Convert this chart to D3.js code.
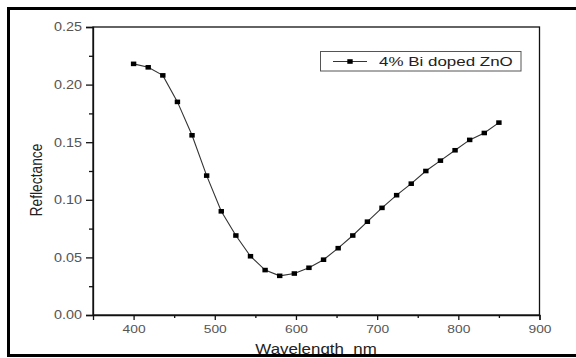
<!DOCTYPE html>
<html><head><meta charset="utf-8">
<script src="https://cdn.jsdelivr.net/npm/d3@7"></script>
<style>body{margin:0;background:#fff;}svg{display:block;font-family:"Liberation Sans",Arial,sans-serif;}</style>
</head><body>
<svg id="chart" width="576" height="358"></svg>
<script>
const wavelengths = [400,418,436,454,472,490,508,526,544,562,580,598,616,634,652,670,688,706,724,742,760,778,796,814,832,850];
const reflectance = [0.218,0.215,0.208,0.185,0.156,0.121,0.090,0.069,0.051,0.039,0.034,0.036,0.041,0.048,0.058,0.069,0.081,0.093,0.104,0.114,0.125,0.134,0.143,0.152,0.158,0.167];
const xTicks = [400,500,600,700,800,900];
const yTicks = [0.00,0.05,0.10,0.15,0.20,0.25];
const seriesName = "4% Bi doped ZnO";
const xTitle = "Wavelength  nm";
const yTitle = "Reflectance";

const svg = d3.select("#chart");
const L=93, R=539.5, T=27, B=315;
const x = d3.scaleLinear().domain([350,900]).range([L,R]);
const y = d3.scaleLinear().domain([0,0.25]).range([B,T]);

function stretch(sel, sx){
  sel.each(function(){
    const t = d3.select(this);
    const x0 = +(t.attr("x")||0);
    t.attr("x",0).attr("transform",`translate(${x0},0) scale(${sx},1)`);
  });
}

// plot box
svg.append("rect").attr("x",L).attr("y",T).attr("width",R-L).attr("height",B-T)
  .attr("fill","none").attr("stroke","#111").attr("stroke-width",1.3);

// x axis
const xAxis = d3.axisBottom(x).tickValues(xTicks).tickSize(5).tickPadding(5).tickFormat(d3.format("d"));
const gx = svg.append("g").attr("transform",`translate(0,${B})`).call(xAxis);
gx.select(".domain").attr("stroke","#111").attr("stroke-width",1.3);
gx.selectAll(".tick line").attr("stroke","#111").attr("stroke-width",1.3);
gx.selectAll(".tick text").attr("fill","#555").attr("font-size",11.5).attr("font-family","Liberation Sans, Arial, sans-serif");
stretch(gx.selectAll(".tick text"),1.2);
const gxm = svg.append("g").attr("transform",`translate(0,${B})`)
  .call(d3.axisBottom(x).tickValues([450,550,650,750,850]).tickSize(3).tickFormat(""));
gxm.select(".domain").remove();
gxm.selectAll(".tick line").attr("stroke","#111").attr("stroke-width",1.3);

// y axis
const yAxis = d3.axisLeft(y).tickValues(yTicks).tickSize(7).tickPadding(4).tickFormat(d3.format(".2f"));
const gy = svg.append("g").attr("transform",`translate(${L},0)`).call(yAxis);
gy.select(".domain").attr("stroke","#111").attr("stroke-width",1.3);
gy.selectAll(".tick line").attr("stroke","#111").attr("stroke-width",1.3);
gy.selectAll(".tick text").attr("fill","#555").attr("font-size",12).attr("font-family","Liberation Sans, Arial, sans-serif");
stretch(gy.selectAll(".tick text"),1.2);
const gym = svg.append("g").attr("transform",`translate(${L},0)`)
  .call(d3.axisLeft(y).tickValues([0.025,0.075,0.125,0.175,0.225]).tickSize(4).tickFormat(""));
gym.select(".domain").remove();
gym.selectAll(".tick line").attr("stroke","#111").attr("stroke-width",1.3);

// titles
svg.append("text").attr("transform","translate(316,353.5) scale(1.165,1)").attr("text-anchor","middle")
  .attr("font-size",14.5).attr("fill","#222").style("white-space","pre").text(xTitle);
svg.append("text").attr("transform","translate(42,180) scale(1.2,1) rotate(-90)").attr("text-anchor","middle")
  .attr("font-size",13.8).attr("fill","#222").text(yTitle);

// data
const data = wavelengths.map((w,i)=>({w, r: reflectance[i]}));
const line = d3.line().x(d=>x(d.w)).y(d=>y(d.r));
svg.append("path").datum(data).attr("d",line).attr("fill","none").attr("stroke","#333").attr("stroke-width",1.1);
svg.selectAll("rect.pt").data(data).enter().append("rect").attr("class","pt")
  .attr("x",d=>x(d.w)-2.7).attr("y",d=>y(d.r)-2.3).attr("width",5.4).attr("height",4.6).attr("fill","#000");

// legend
const lg = svg.append("g");
lg.append("rect").attr("x",320.5).attr("y",51.5).attr("width",200.5).attr("height",19.5)
  .attr("fill","#fff").attr("stroke","#555").attr("stroke-width",1);
lg.append("line").attr("x1",333).attr("x2",367).attr("y1",61.5).attr("y2",61.5).attr("stroke","#333").attr("stroke-width",1.1);
lg.append("rect").attr("x",347.3).attr("y",59.2).attr("width",5.4).attr("height",4.6).attr("fill","#000");
lg.append("text").attr("transform","translate(379,66) scale(1.39,1)").attr("font-size",12.2).attr("fill","#222").text(seriesName);

// outer frame (drawn last, overlaps the x title like the reference)
svg.append("rect").attr("x",8.5).attr("y",8.5).attr("width",580).attr("height",347)
  .attr("fill","none").attr("stroke","#000").attr("stroke-width",3);
</script>
</body></html>
